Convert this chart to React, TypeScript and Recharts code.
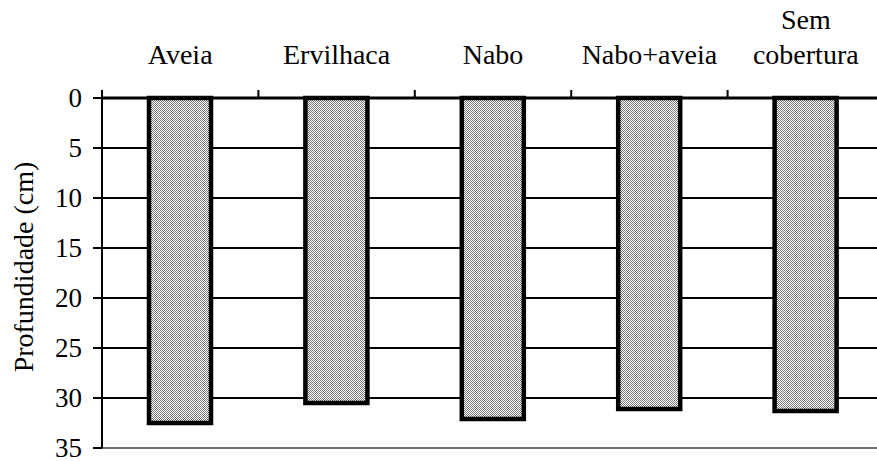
import { BarChart, Bar, XAxis, YAxis, CartesianGrid, ReferenceLine, Label } from 'recharts'

// depth reached (cm) per cover crop
const categories = ['Aveia', 'Ervilhaca', 'Nabo', 'Nabo+aveia', 'Sem cobertura']
const depths = [32.5, 30.5, 32.1, 31.1, 31.3]
const depthTicks = [0, 5, 10, 15, 20, 25, 30, 35]

const data = categories.map((name, i) => ({ name, depth: depths[i] }))

const FONT = "'Liberation Serif', 'DejaVu Serif', serif"
const catStyle = { fontFamily: FONT, fontSize: 28 }
const tickStyle = { fontFamily: FONT, fontSize: 27 }

const TopTick = (props: any) => {
  const { x, y, payload, index } = props
  const half = payload?.offset ?? 0
  const lines = String(payload.value).split(' ')
  return (
    <g>
      <line x1={x - half} x2={x - half} y1={y} y2={y - 8} stroke="#000" strokeWidth={2} />
      {index === categories.length - 1 && (
        <line x1={x + half} x2={x + half} y1={y} y2={y - 8} stroke="#000" strokeWidth={2} />
      )}
      {lines.map((ln, i) => (
        <text
          key={i}
          x={x}
          y={y - 34 - (lines.length - 1 - i) * 35}
          textAnchor="middle"
          style={catStyle}
          fill="#000"
        >
          {ln}
        </text>
      ))}
    </g>
  )
}

const YTick = (props: any) => {
  const { x, y, payload } = props
  return (
    <text x={x} y={y} dy={9} textAnchor="end" style={tickStyle} fill="#000">
      {payload.value}
    </text>
  )
}

export default function App() {
  return (
    <div style={{ position: 'absolute', left: 0, top: 0, width: 877, height: 461, overflow: 'hidden', background: '#fff' }}>
      <svg width={0} height={0} style={{ position: 'absolute' }}>
        <defs>
          <pattern id="stipple" patternUnits="userSpaceOnUse" width={2} height={2}>
            <rect width={2} height={2} fill="#fff" />
            <rect x={0} y={0} width={1} height={1} fill="#7a7a7a" />
            <rect x={1} y={1} width={1} height={1} fill="#7a7a7a" />
          </pattern>
        </defs>
      </svg>
      <BarChart
        width={884}
        height={461}
        data={data}
        margin={{ top: 0, right: 0, bottom: 13, left: 0 }}
        barSize={62}
      >
        <CartesianGrid horizontal vertical={false} stroke="#000" strokeWidth={2} />
        <XAxis
          dataKey="name"
          orientation="top"
          height={98}
          axisLine={{ stroke: '#000', strokeWidth: 3 }}
          tickLine={false}
          tickSize={0}
          tickMargin={0}
          interval={0}
          tick={<TopTick />}
        />
        <YAxis
          reversed
          width={102}
          domain={[0, 35]}
          ticks={depthTicks}
          interval={0}
          axisLine={{ stroke: '#000', strokeWidth: 2 }}
          tickLine={{ stroke: '#000', strokeWidth: 2 }}
          tickSize={9}
          tickMargin={11}
          tick={<YTick />}
        >
          <Label
            content={({ viewBox }: any) => {
              const cx = viewBox.x + 23
              const cy = viewBox.y + viewBox.height / 2 - 6
              return (
                <text
                  x={cx}
                  y={cy}
                  transform={`rotate(-90 ${cx} ${cy})`}
                  textAnchor="middle"
                  dominantBaseline="central"
                  style={catStyle}
                  fill="#000"
                >
                  Profundidade (cm)
                </text>
              )
            }}
          />
        </YAxis>
        <ReferenceLine y={35} stroke="#6e6e6e" strokeWidth={2} />
        <Bar dataKey="depth" fill="url(#stipple)" stroke="#000" strokeWidth={4.5} isAnimationActive={false} />
      </BarChart>
    </div>
  )
}
